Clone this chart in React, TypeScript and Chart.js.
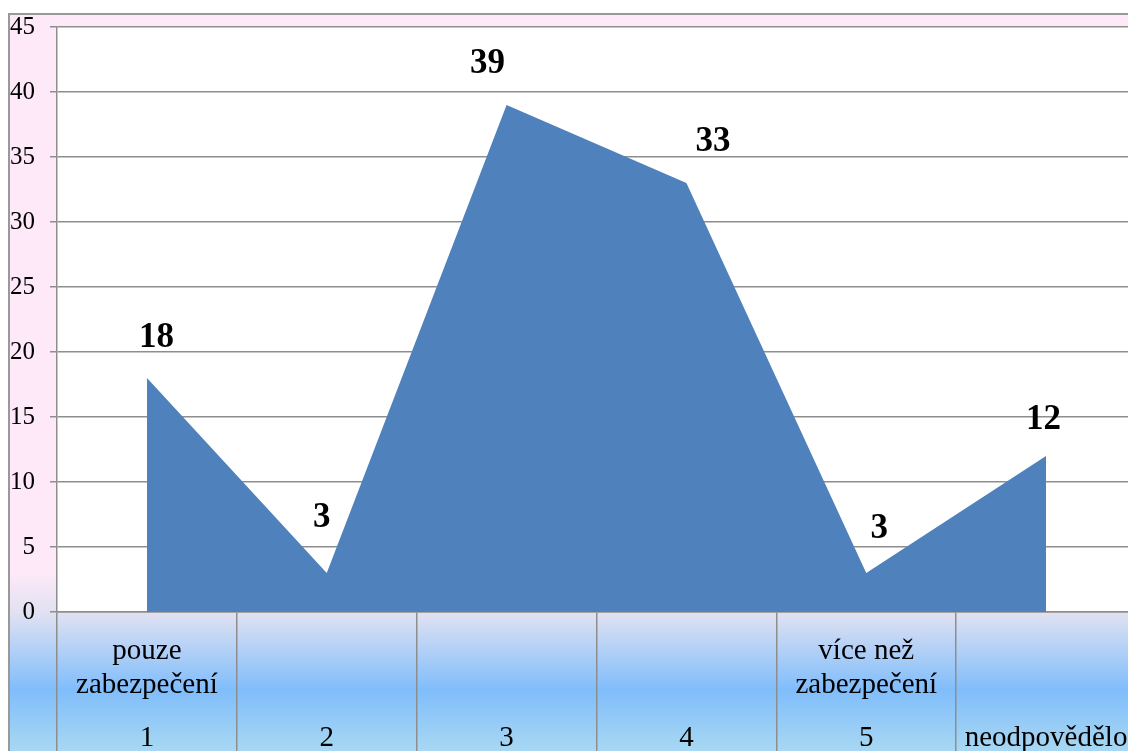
import React, { useEffect, useRef } from 'react';
import { Chart, registerables } from 'chart.js';

Chart.register(...registerables);

// Category axis: bottom row of labels and the descriptive lines above them
const categories = ['1', '2', '3', '4', '5', 'neodpovědělo'];
const categoryNotes: string[][] = [
  ['pouze', 'zabezpečení'],
  [],
  [],
  [],
  ['více než', 'zabezpečení'],
  [],
];

// Number of answers per category
const counts = [18, 3, 39, 33, 3, 12];

// Value axis range
const yMin = 0;
const yMax = 45;
const yStep = 5;

// Where each value label sits relative to its vertex (dx, dy in px)
const labelOffsets: [number, number][] = [
  [9.5, -43],
  [-5, -57.5],
  [-19, -43.5],
  [26.5, -44],
  [13, -46.5],
  [-2.5, -39],
];

const SERIF = '"Liberation Serif", "Times New Roman", serif';
const LINE_GREY = '#8e8e8e';
const AREA_BLUE = '#4f81bd';

const CANVAS_W = 1160;
const CANVAS_H = 780;
const AXIS_W = 49;
const CAT_AXIS_H = 158;

const backdrop = {
  id: 'backdrop',
  beforeDraw(chart: any) {
    const { ctx, chartArea } = chart;
    const w = chart.width;
    const h = chart.height;
    const top = 14;
    const bottom = chartArea.bottom + CAT_AXIS_H;
    const span = bottom - top;
    const at = (y: number) => Math.min(1, Math.max(0, (y - top) / span));
    const g = ctx.createLinearGradient(0, top, 0, bottom);
    g.addColorStop(0, '#fde9f7');
    g.addColorStop(at(chartArea.bottom - 38), '#fde9f7');
    g.addColorStop(at(chartArea.bottom + 2), '#dfe1f2');
    g.addColorStop(at(chartArea.bottom + 78), '#80bdfb');
    g.addColorStop(1, '#b4e0ef');
    ctx.save();
    ctx.fillStyle = g;
    ctx.fillRect(9, top, w - 9, h - top);
    ctx.fillStyle = '#ffffff';
    ctx.fillRect(
      chartArea.left,
      chartArea.top,
      chartArea.right - chartArea.left,
      chartArea.bottom - chartArea.top
    );
    ctx.strokeStyle = '#999999';
    ctx.lineWidth = 2;
    ctx.beginPath();
    ctx.moveTo(9, h);
    ctx.lineTo(9, top);
    ctx.lineTo(w, top);
    ctx.stroke();
    ctx.restore();
  },
};

const categoryText = {
  id: 'categoryText',
  afterDraw(chart: any) {
    const { ctx } = chart;
    const xs = chart.scales.x;
    const axisTop = chart.chartArea.bottom;
    ctx.save();
    ctx.fillStyle = '#000000';
    ctx.font = `29px ${SERIF}`;
    ctx.textAlign = 'center';
    ctx.textBaseline = 'alphabetic';
    categories.forEach((label, i) => {
      const x = xs.getPixelForValue(i);
      const notes = categoryNotes[i] || [];
      notes.forEach((line, k) => {
        ctx.fillText(line, x, axisTop + 47 + k * 34);
      });
      ctx.fillText(label, x, axisTop + 134);
    });
    ctx.restore();
  },
};

const valueLabels = {
  id: 'valueLabels',
  afterDatasetsDraw(chart: any) {
    const { ctx } = chart;
    const meta = chart.getDatasetMeta(0);
    const size = 35;
    ctx.save();
    ctx.fillStyle = '#000000';
    ctx.font = `bold ${size}px ${SERIF}`;
    ctx.textAlign = 'center';
    ctx.textBaseline = 'alphabetic';
    meta.data.forEach((pt: any, i: number) => {
      const [dx, dy] = labelOffsets[i] || [0, -44];
      ctx.fillText(String(counts[i]), pt.x + dx, pt.y + dy + size * 0.338);
    });
    ctx.restore();
  },
};

export default function App() {
  const canvasRef = useRef<HTMLCanvasElement | null>(null);

  useEffect(() => {
    const canvas = canvasRef.current;
    if (!canvas) return;
    const chart = new Chart(canvas, {
      type: 'line',
      data: {
        labels: categories,
        datasets: [
          {
            data: counts,
            fill: 'origin',
            backgroundColor: AREA_BLUE,
            borderColor: AREA_BLUE,
            borderWidth: 0,
            pointRadius: 0,
            pointHoverRadius: 0,
            tension: 0,
          },
        ],
      },
      options: {
        responsive: false,
        animation: false,
        devicePixelRatio: 1,
        layout: {
          padding: {
            left: 8,
            top: 27,
            right: CANVAS_W - 1136,
            bottom: CANVAS_H - 612 - CAT_AXIS_H,
          },
        },
        plugins: {
          legend: { display: false },
          tooltip: { enabled: false },
          title: { display: false },
        },
        scales: {
          x: {
            type: 'category',
            offset: true,
            afterFit(scale: any) {
              scale.height = CAT_AXIS_H;
              scale.paddingLeft = 0;
              scale.paddingRight = 0;
            },
            grid: {
              offset: true,
              drawOnChartArea: false,
              drawTicks: true,
              tickLength: CAT_AXIS_H,
              color: LINE_GREY,
              lineWidth: 1.5,
            },
            border: { display: true, color: LINE_GREY, width: 1.5 },
            ticks: { display: false },
          },
          y: {
            min: yMin,
            max: yMax,
            afterFit(scale: any) {
              scale.width = AXIS_W;
              scale.paddingTop = 0;
              scale.paddingBottom = 0;
            },
            ticks: {
              stepSize: yStep,
              padding: 15,
              color: '#000000',
              font: { family: SERIF, size: 25 },
            },
            grid: {
              color: LINE_GREY,
              lineWidth: 1.5,
              drawTicks: true,
              tickLength: 7,
            },
            border: { display: true, color: LINE_GREY, width: 1.5 },
          },
        },
      },
      plugins: [backdrop, valueLabels, categoryText],
    });
    return () => chart.destroy();
  }, []);

  return (
    <div
      style={{
        position: 'fixed',
        left: 0,
        top: 0,
        width: '100vw',
        height: '100vh',
        overflow: 'hidden',
        background: '#ffffff',
      }}
    >
      <canvas
        ref={canvasRef}
        width={CANVAS_W}
        height={CANVAS_H}
        style={{ position: 'absolute', left: 0, top: 0, display: 'block' }}
      />
    </div>
  );
}
